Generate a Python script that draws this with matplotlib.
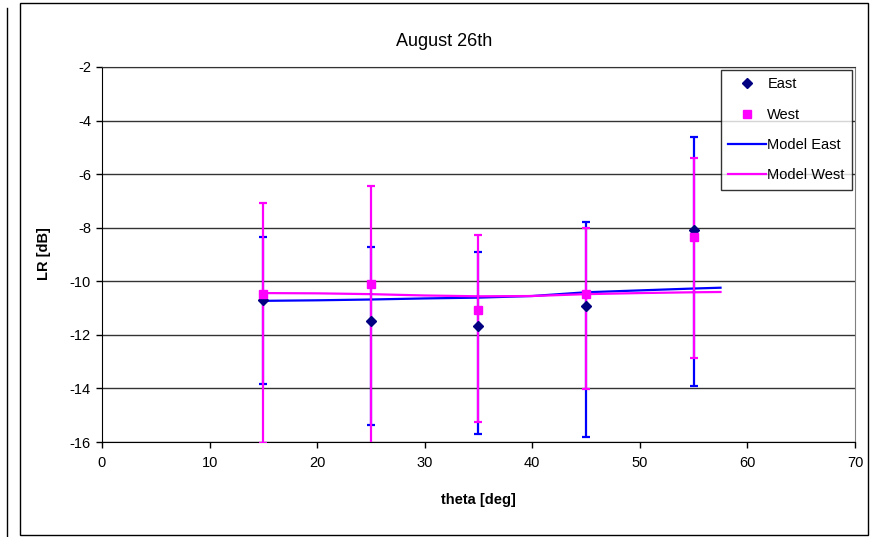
import numpy as np
import matplotlib
matplotlib.use('Agg')
import matplotlib.pyplot as plt
from matplotlib.patches import Rectangle
from matplotlib.lines import Line2D

plt.rcParams['font.family'] = ['Liberation Sans', 'DejaVu Sans']
plt.rcParams['axes.unicode_minus'] = False

# measured loss ratio per elevation angle (centre, lower and upper limit)
theta = [15, 25, 35, 45, 55]
east = [-10.70, -11.47, -11.67, -10.92, -8.08]
east_lo = [-13.84, -15.36, -15.71, -15.82, -13.91]
east_hi = [-8.33, -8.73, -8.89, -7.80, -4.61]
west = [-10.48, -10.10, -11.09, -10.47, -8.33]
west_lo = [-16.05, -16.60, -15.26, -14.02, -12.85]
west_hi = [-7.09, -6.44, -8.27, -8.02, -5.40]

# model curves
model_theta = [15, 20, 25, 30, 35, 40, 45, 50, 55, 57.5]
model_east = [-10.73, -10.71, -10.68, -10.64, -10.61, -10.55, -10.41, -10.34, -10.27, -10.24]
model_west = [-10.44, -10.45, -10.48, -10.53, -10.56, -10.55, -10.48, -10.44, -10.41, -10.40]

W, H = 875, 537
fig = plt.figure(figsize=(W / 100, H / 100), dpi=100)
ax = fig.add_axes([102 / W, 1 - 442 / H, (855 - 102) / W, (442 - 67) / H])

def err(c, lo, hi):
    c, lo, hi = map(np.array, (c, lo, hi))
    return [c - lo, hi - c]

ax.plot(model_theta, model_east, color='#0000ff', lw=1.6, zorder=2, label='Model East')
ax.plot(model_theta, model_west, color='#ff00ff', lw=1.6, zorder=2.1, label='Model West')

ax.errorbar(theta, east, yerr=err(east, east_lo, east_hi), fmt='none',
            ecolor='#0000ff', elinewidth=1.6, capsize=3, capthick=1.6, zorder=3)
ax.errorbar(theta, west, yerr=err(west, west_lo, west_hi), fmt='none',
            ecolor='#ff00ff', elinewidth=1.6, capsize=3, capthick=1.6, zorder=4)

ax.plot(theta, east, ls='none', marker='D', ms=5, color='#000080', zorder=5, label='East')
ax.plot(theta, west, ls='none', marker='s', ms=5.5, color='#ff00ff', zorder=6, label='West')

ax.set_xlim(0, 70)
ax.set_ylim(-16, -2)
ax.set_xticks(range(0, 71, 10))
ax.set_yticks(range(-16, -1, 2))
ax.tick_params(direction='out', length=4, width=1, labelsize=10.5, colors='black', pad=4)
ax.tick_params(axis='x', pad=6)
ax.yaxis.grid(True, color='#333333', lw=1.0)
ax.set_axisbelow(True)
ax.spines['left'].set_color('black')
ax.spines['bottom'].set_color('black')
ax.spines['right'].set_color('#808080')
ax.spines['top'].set_color('#333333')

# legend: markers first, then the model curves
handles, labels = ax.get_legend_handles_labels()
order = [2, 3, 0, 1]
leg = ax.legend([handles[i] for i in order], [labels[i] for i in order],
                loc='upper right', bbox_to_anchor=(852 / W, 1 - 70 / H),
                bbox_transform=fig.transFigure, fontsize=10.5, frameon=True,
                fancybox=False, handlelength=2.6, handletextpad=0.1,
                labelspacing=1.12, borderpad=0.5, borderaxespad=0)
leg.get_frame().set_edgecolor('black')
leg.get_frame().set_linewidth(1.0)

fig.text(444 / W, 1 - 42 / H, 'August 26th', ha='center', va='center', fontsize=13)
fig.text(478 / W, 1 - 500 / H, 'theta [deg]', ha='center', va='center',
         fontsize=10.5, fontweight='bold')
fig.text(44 / W, 1 - 254 / H, 'LR [dB]', ha='center', va='center',
         fontsize=10.5, fontweight='bold', rotation=90)

# chart border and neighbouring frame edge
fig.add_artist(Rectangle((20 / W, 1 - 535 / H), (868 - 20) / W, (535 - 3) / H,
                         transform=fig.transFigure, fill=False, ec='black', lw=1.0))
fig.add_artist(Line2D([7 / W, 7 / W], [0, 1 - 8 / H], transform=fig.transFigure,
                      color='black', lw=1.0))

fig.savefig('out.png', dpi=100)
